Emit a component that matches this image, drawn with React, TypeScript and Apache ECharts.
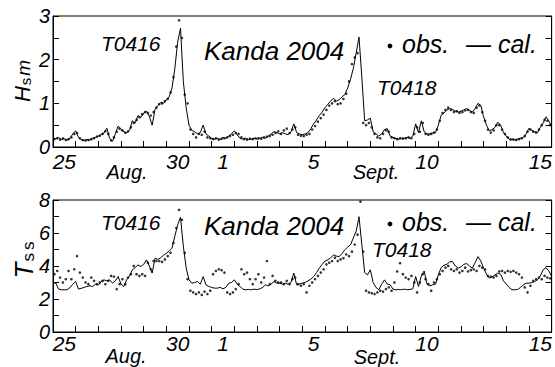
import React, { useEffect, useRef } from "react";
import * as echarts from "echarts";

// x = days since 25 Aug 2004 00:00
const X_MIN = 0;
const X_MAX = 22;
const STEP = 1 / 8; // 3-hourly
const dayLabelPos = [0.5, 5.5, 7.5, 11.5, 16.5, 21.5];
const dayLabelText = ["25", "30", "1", "5", "10", "15"];
const monthLabels = ["Aug.", "Sept."];

// Hs (m), calculated, at d = i/8
const calHs = [
  0.2, 0.19, 0.22, 0.17, 0.19, 0.16, 0.2, 0.3,
  0.37, 0.22, 0.17, 0.15, 0.17, 0.16, 0.2, 0.22,
  0.25, 0.28, 0.32, 0.43, 0.2, 0.13, 0.3, 0.48,
  0.4, 0.35, 0.32, 0.38, 0.6, 0.55, 0.72, 0.68,
  0.78, 0.82, 0.7, 0.5, 0.86, 0.95, 1.02, 1.0,
  1.08, 1.15, 1.35, 1.8, 2.4, 2.72, 1.5, 0.9,
  0.5, 0.38, 0.35, 0.3, 0.33, 0.5, 0.3, 0.25,
  0.2, 0.18, 0.2, 0.17, 0.22, 0.2, 0.25, 0.3,
  0.37, 0.28, 0.2, 0.18, 0.2, 0.17, 0.18, 0.2,
  0.18, 0.2, 0.22, 0.2, 0.25, 0.3, 0.35, 0.33,
  0.3, 0.33, 0.3, 0.28, 0.35, 0.53, 0.33, 0.3,
  0.28, 0.3, 0.33, 0.42, 0.53, 0.62, 0.72, 0.8,
  0.9, 0.98, 1.05, 1.12, 1.05, 1.08, 1.15, 1.2,
  1.35, 1.55, 1.8, 2.15, 2.52, 1.6, 0.6, 0.62,
  0.66, 0.35, 0.3, 0.25, 0.3, 0.4, 0.42, 0.25,
  0.22, 0.2, 0.18, 0.2, 0.2, 0.22, 0.2, 0.25,
  0.53, 0.33, 0.6, 0.35, 0.3, 0.3, 0.32, 0.33,
  0.5, 0.73, 0.78, 0.85, 0.88, 0.86, 0.82, 0.8,
  0.82, 0.85, 0.88, 0.84, 0.8, 0.88, 1.0, 0.95,
  0.69, 0.5, 0.37, 0.4, 0.45, 0.57, 0.5, 0.33,
  0.25, 0.18, 0.18, 0.17, 0.18, 0.2, 0.22, 0.3,
  0.43, 0.38, 0.35, 0.33, 0.45, 0.55, 0.69, 0.6,
  0.47,
];

// Hs (m), observed, at d = (i + 0.5)/8
const obsHs = [
  0.18, 0.2, 0.17, 0.2, 0.16, 0.18, 0.22, 0.3,
  0.32, 0.2, 0.16, 0.15, 0.16, 0.18, 0.2, 0.24,
  0.26, 0.3, 0.36, 0.3, 0.15, 0.22, 0.35, 0.42,
  0.38, 0.33, 0.36, 0.45, 0.55, 0.62, 0.68, 0.75,
  0.8, 0.78, 0.72, 0.8, 0.9, 0.98, 1.0, 1.05,
  1.1, 1.25, 1.6, 2.3, 2.9, 2.5, 1.2, 1.0,
  0.4, 0.3, 0.22, 0.3, 0.28, 0.35, 0.22, 0.2,
  0.18, 0.2, 0.17, 0.19, 0.2, 0.22, 0.25, 0.28,
  0.32, 0.3, 0.22, 0.18, 0.17, 0.19, 0.18, 0.2,
  0.2, 0.19, 0.22, 0.24, 0.25, 0.28, 0.32, 0.36,
  0.3, 0.38, 0.42, 0.32, 0.4, 0.45, 0.28, 0.26,
  0.25, 0.28, 0.3, 0.4, 0.48, 0.58, 0.66, 0.74,
  0.85, 0.95, 1.0, 1.05, 0.98, 1.0, 1.1, 1.22,
  1.5, 1.9, 2.05, 2.15, null, 0.55, 0.5, 0.55,
  0.45, 0.3, 0.22, 0.2, 0.3, 0.38, 0.35, 0.22,
  0.2, 0.18, 0.2, 0.19, 0.2, 0.22, 0.2, 0.3,
  0.45, 0.35, 0.55, 0.3, 0.28, 0.3, 0.33, 0.4,
  0.6, 0.78, 0.85, 0.9, 0.85, 0.8, 0.82, 0.78,
  0.8, 0.84, 0.85, 0.8, 0.78, 0.9, 0.95, 0.8,
  0.6, 0.4, 0.33, 0.38, 0.5, 0.5, 0.4, 0.3,
  0.22, 0.17, 0.17, 0.16, 0.18, 0.2, 0.25, 0.35,
  0.4, 0.35, 0.33, 0.4, 0.5, 0.62, 0.6, 0.5,
];

// Ts (s), calculated, at d = i/8
const calTs = [
  2.96, 2.96, 2.6, 2.56, 2.56, 2.56, 2.7, 2.9,
  3.06, 2.6, 2.65, 2.7, 2.76, 2.8, 2.76, 2.9,
  2.85, 3.05, 3.16, 3.1, 3.16, 2.96, 3.1, 3.36,
  2.9, 2.76, 3.16, 3.4, 3.77, 3.9, 4.07, 3.97,
  4.1, 4.37, 4.0, 3.57, 4.47, 4.4, 4.5, 4.65,
  4.77, 4.9, 5.08, 5.8, 6.5, 6.95, 5.2, 3.9,
  3.16, 2.96, 3.0, 3.06, 2.9, 3.36, 2.85, 2.76,
  2.7, 2.66, 2.66, 2.7, 2.62, 2.7, 2.96, 3.0,
  3.16, 2.9, 2.76, 2.6, 2.56, 2.58, 2.56, 2.6,
  2.56, 2.62, 2.7, 2.86, 2.8, 2.9, 3.06, 2.96,
  2.96, 2.9, 2.96, 2.9, 3.0, 3.57, 2.86, 2.9,
  2.96, 3.0, 3.1, 3.2, 3.36, 3.6, 3.87, 4.1,
  4.3, 4.37, 4.5, 4.67, 4.6, 4.57, 4.75, 4.98,
  5.15, 5.28, 5.7, 6.1, 6.99, 5.3, 3.6, 3.46,
  3.77, 3.0, 2.7, 2.56, 2.9, 3.16, 2.9, 2.86,
  2.6, 2.56, 2.58, 2.56, 2.6, 2.56, 2.58, 2.62,
  3.36, 2.76, 3.4, 3.7, 2.9, 2.8, 2.86, 2.9,
  3.46, 3.9, 4.05, 4.1, 4.25, 4.27, 4.0, 3.87,
  3.95, 4.1, 4.15, 4.0, 3.87, 4.2, 4.57, 4.3,
  3.87, 3.5, 3.26, 3.35, 3.46, 3.57, 3.5, 3.1,
  2.9, 2.7, 2.56, 2.56, 2.58, 2.7, 2.85, 2.96,
  2.96, 3.0, 3.06, 3.16, 3.4, 3.77, 3.9, 3.7,
  3.36,
];

// Ts (s), observed, at d = (i + 0.5)/8
const obsTs = [
  3.5, 3.7, 3.3, 3.0, 3.2, 3.7, 3.2, 3.8,
  4.6, 3.6, 3.3, 3.0, 2.9, 3.3, 3.1, 2.9,
  3.0, 3.1, 2.9, 3.1, 3.4, 3.36, 2.6, 2.9,
  3.2, 2.9, 3.3, 3.5, 4.0, 3.5, 3.4, 3.5,
  3.4, 4.2, 3.8, 4.3, 4.3, 4.3, 4.25, 4.4,
  4.6, 4.8, 5.4, 6.3, 7.4, 6.8, 4.8, 3.2,
  2.5, 2.4, 2.3, 2.4, 2.25, 2.45, 2.3, 2.5,
  3.5, 3.7, 3.8, 3.75, 3.6, 2.4, 2.3, 2.4,
  2.6, 2.9, 3.8, 3.5, 3.6, 3.2, 2.9, 3.2,
  3.5, 3.0, 3.3, 4.3, 2.9, 3.4, 3.1, 3.0,
  3.0, 2.9, 3.1, 2.9, 3.2, 3.3, 2.9, 2.8,
  2.9, 2.4, 2.8, 3.0, 3.2, 3.4, 3.6, 3.8,
  4.1, 4.2, 4.3, 4.5, 4.3, 4.4, 4.47, 4.7,
  4.6, 4.87, 5.3, 5.9, 7.9, 4.87, 2.5, 2.4,
  2.35, 2.3, 2.4, 2.5, 2.45, 2.6, 2.7, 2.5,
  3.0, 3.67, 4.17, 3.5, 3.3, 3.2, 3.4, 3.0,
  2.4, 3.0, 3.5, 3.2, 2.9, 2.5, 3.0, 3.2,
  3.5, 3.7, 3.9, 4.0, 3.8, 3.7, 3.8, 3.6,
  3.7, 3.9, 3.67, 3.75, 3.8, 3.7, 4.0, 3.9,
  3.8, 3.4, 3.36, 3.3, 3.4, 3.67, 3.7, 3.6,
  3.7, 3.65, 3.7, 3.6, 3.5, 3.3, 2.7, 2.4,
  2.8, 3.1, 3.2, 3.3, 3.2, 3.4, 3.3, 3.25,
];

const FONT = "'Liberation Sans', Arial, Helvetica, sans-serif";

const lineData = (arr: (number | null)[]) =>
  arr.map((v, i) => [i * STEP, v]).filter((p) => p[1] !== null);
const dotData = (arr: (number | null)[]) =>
  arr.map((v, i) => [(i + 0.5) * STEP, v]).filter((p) => p[1] !== null);

function dayFormatter(v: number) {
  for (let i = 0; i < dayLabelPos.length; i++) {
    if (Math.abs(v - dayLabelPos[i]) < 1e-6) return dayLabelText[i];
  }
  return "";
}

function tickAxis(gridIndex: number) {
  return {
    gridIndex,
    type: "value",
    min: X_MIN,
    max: X_MAX,
    interval: 1,
    axisLine: { show: true, onZero: false, lineStyle: { color: "#000", width: 1 } },
    axisTick: { show: true, inside: true, length: 6, lineStyle: { color: "#000", width: 1 } },
    axisLabel: { show: false },
    splitLine: { show: false },
  };
}

function labelAxis(gridIndex: number, margin: number) {
  return {
    gridIndex,
    type: "value",
    position: "bottom",
    min: X_MIN,
    max: X_MAX,
    interval: 0.5,
    axisLine: { show: false },
    axisTick: { show: false },
    splitLine: { show: false },
    axisLabel: {
      show: true,
      formatter: dayFormatter,
      fontSize: 21,
      fontStyle: "italic",
      fontFamily: FONT,
      color: "#000",
      margin,
    },
  };
}

function leftY(gridIndex: number, max: number, interval: number, labelEvery: number) {
  return {
    gridIndex,
    type: "value",
    position: "left",
    min: 0,
    max,
    interval,
    axisLine: { show: true, onZero: false, lineStyle: { color: "#000", width: 1 } },
    axisTick: { show: true, inside: true, length: 6, lineStyle: { color: "#000", width: 1 } },
    splitLine: { show: false },
    axisLabel: {
      formatter: (v: number) => (Math.abs(v / labelEvery - Math.round(v / labelEvery)) < 1e-6 ? String(v) : ""),
      fontSize: 20,
      fontStyle: "italic",
      fontFamily: FONT,
      color: "#000",
      margin: 3,
    },
  };
}

function rightY(gridIndex: number, max: number, interval: number) {
  return {
    gridIndex,
    type: "value",
    position: "right",
    min: 0,
    max,
    interval,
    axisLine: { show: true, onZero: false, lineStyle: { color: "#000", width: 1 } },
    axisTick: { show: true, inside: true, length: 6, lineStyle: { color: "#000", width: 1 } },
    axisLabel: { show: false },
    splitLine: { show: false },
  };
}

function txt(text: string, x: number, y: number, size: number, align = "left") {
  return {
    type: "text",
    x,
    y,
    silent: true,
    style: {
      text,
      fill: "#000",
      fontSize: size,
      fontStyle: "italic",
      fontFamily: FONT,
      align,
      verticalAlign: "middle",
    },
  };
}

function dot(x: number, y: number) {
  return { type: "circle", silent: true, shape: { cx: x, cy: y, r: 2.4 }, style: { fill: "#000" } };
}

function yName(text: string, rich: any, x: number, y: number) {
  return {
    type: "text",
    x,
    y,
    rotation: Math.PI / 2,
    silent: true,
    style: { text, rich, fill: "#000", fontFamily: FONT, align: "center", verticalAlign: "bottom" },
  };
}

export default function App() {
  const ref = useRef<HTMLDivElement>(null);
  useEffect(() => {
    if (!ref.current) return;
    const chart = echarts.init(ref.current, undefined, { renderer: "svg" });
    const hsRich = {
      h: { fontSize: 22, fontStyle: "italic", fontFamily: FONT, fill: "#000", verticalAlign: "bottom" },
      s: { fontSize: 15, fontFamily: FONT, fill: "#000", verticalAlign: "bottom", padding: [0, 2, 0, 1] },
      m: { fontSize: 19, fontStyle: "italic", fontFamily: FONT, fill: "#000", verticalAlign: "bottom" },
    };
    const tsRich = {
      h: { fontSize: 26, fontStyle: "italic", fontFamily: FONT, fill: "#000", verticalAlign: "bottom" },
      s: { fontSize: 17, fontFamily: FONT, fill: "#000", verticalAlign: "bottom", padding: [0, 3, 0, 1] },
      m: { fontSize: 17, fontFamily: FONT, fill: "#000", verticalAlign: "bottom" },
    };
    const option: any = {
      animation: false,
      backgroundColor: "#fff",
      grid: [
        { left: 53, top: 16, width: 501, height: 131, show: true, borderColor: "#000", borderWidth: 1, backgroundColor: "transparent" },
        { left: 53, top: 200, width: 501, height: 132, show: true, borderColor: "#000", borderWidth: 1, backgroundColor: "transparent" },
      ],
      xAxis: [tickAxis(0), labelAxis(0, 4), tickAxis(1), labelAxis(1, 1)],
      yAxis: [leftY(0, 3, 0.5, 1), rightY(0, 3, 0.5), leftY(1, 8, 1, 2), rightY(1, 8, 1)],
      series: [
        {
          type: "line", xAxisIndex: 0, yAxisIndex: 0, data: lineData(calHs),
          showSymbol: false, symbol: "none", lineStyle: { color: "#000", width: 1 }, z: 3,
        },
        {
          type: "scatter", xAxisIndex: 0, yAxisIndex: 0, data: dotData(obsHs),
          symbolSize: 2.6, itemStyle: { color: "#000" }, z: 4,
        },
        {
          type: "line", xAxisIndex: 2, yAxisIndex: 2, data: lineData(calTs),
          showSymbol: false, symbol: "none", lineStyle: { color: "#000", width: 1 }, z: 3,
        },
        {
          type: "scatter", xAxisIndex: 2, yAxisIndex: 2, data: dotData(obsTs),
          symbolSize: 2.6, itemStyle: { color: "#000" }, z: 4,
        },
      ],
      graphic: [
        yName("{h|H}{s|s}{m|m}", hsRich, 33, 81),
        yName("{h|T}{s|s}{m|s}", tsRich, 37, 260),
        txt("T0416", 101, 43.5, 21),
        txt("Kanda 2004", 204, 51, 26),
        dot(390, 46),
        txt("obs.", 402, 44, 25),
        txt("\u2014 cal.", 466, 44, 25),
        txt("T0418", 377, 87.5, 21),
        txt(monthLabels[0], 127, 172, 20, "center"),
        txt(monthLabels[1], 376, 172, 20, "center"),
        txt("T0416", 101, 222.5, 21),
        txt("Kanda 2004", 204, 226, 26),
        dot(390, 224),
        txt("obs.", 402, 222, 25),
        txt("\u2014 cal.", 466, 222, 25),
        txt("T0418", 372, 249.5, 21),
        txt(monthLabels[0], 126, 356, 20, "center"),
        txt(monthLabels[1], 377, 357, 20, "center"),
      ],
    };
    chart.setOption(option);
    return () => chart.dispose();
  }, []);
  return (
    <div
      ref={ref}
      style={{ position: "absolute", left: 0, top: 0, width: 555, height: 367, background: "#fff" }}
    />
  );
}
